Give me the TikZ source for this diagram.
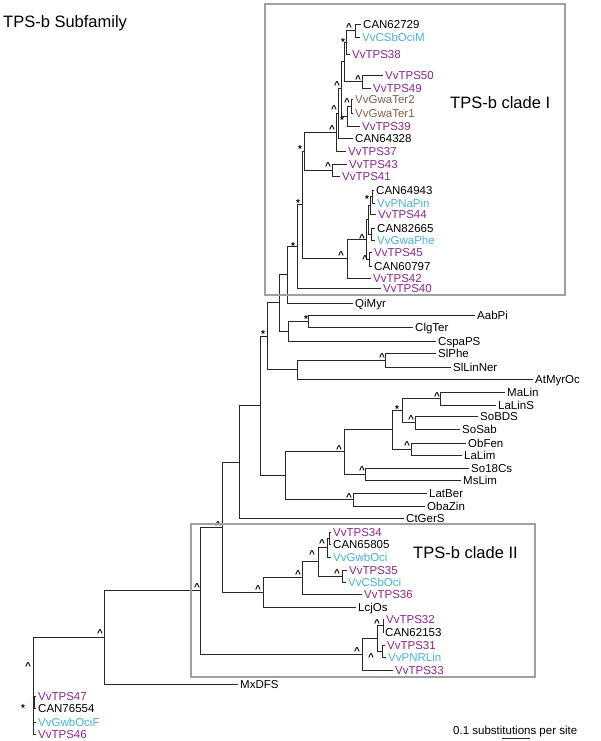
\documentclass[tikz,border=0pt]{standalone}
\usepackage{fontspec}
\setmainfont{Liberation Sans}
\usetikzlibrary{calc}
\definecolor{vpurple}{RGB}{142,38,142}
\definecolor{vcyan}{RGB}{72,178,214}
\definecolor{vbrown}{RGB}{128,98,78}
\definecolor{boxgray}{RGB}{160,160,160}
\definecolor{treeline}{RGB}{40,40,40}
\newcommand\tp[5]{\node[tiplab,text=#4] (#1) at (#2,#3) {#5}; \coordinate (#1e) at ([xshift=-2.5pt]#1.west);}
\newcommand\nd[4]{\path let \p1=(#3), \p2=(#4) in coordinate (#1) at (#2pt,{0.5*\y1+0.5*\y2}); \draw[br] (#1) |- (#3); \draw[br] (#1) |- (#4);}
\newcommand\hatm[3]{\node[hatmark] (#1) at (#2,#3) {\textasciicircum};}
\newcommand\starm[3]{\node[starmark] (#1) at (#2,#3) {*};}
\begin{document}
\begin{tikzpicture}[x=1pt,y=-1pt,
  br/.style={line width=0.9pt,draw=treeline},
  tiplab/.style={anchor=west,inner sep=0pt,font=\fontsize{11.5}{12}\selectfont,text height=8.3pt,text depth=0pt},
  biglab/.style={anchor=west,inner sep=0pt,font=\fontsize{16.5}{18}\selectfont,text height=11.8pt,text depth=0pt},
  hatmark/.style={inner sep=0pt,font=\fontsize{10}{10}\selectfont\bfseries,yshift=-1.6pt},
  starmark/.style={inner sep=0pt,font=\fontsize{10}{10}\selectfont\bfseries,yshift=-1.9pt},
  boxst/.style={draw=boxgray,line width=2.8pt},
  leader/.style={draw=gray!60,dotted,line width=0.6pt}]
\useasboundingbox (0,0) rectangle (600,741);
\fill[white] (0,0) rectangle (600,741);
% tips
\tp{t1}{363}{24}{black}{CAN62729}
\tp{t2}{362}{37}{vcyan}{VvCSbOciM}
\tp{t3}{352}{54}{vpurple}{VvTPS38}
\tp{t4}{385}{75}{vpurple}{VvTPS50}
\tp{t5}{373}{88}{vpurple}{VvTPS49}
\tp{t6}{355}{99}{vbrown}{VvGwaTer2}
\tp{t7}{355}{113}{vbrown}{VvGwaTer1}
\tp{t8}{362}{126}{vpurple}{VvTPS39}
\tp{t9}{355}{138}{black}{CAN64328}
\tp{t10}{348}{151}{vpurple}{VvTPS37}
\tp{t11}{349}{164}{vpurple}{VvTPS43}
\tp{t12}{342}{176}{vpurple}{VvTPS41}
\tp{t13}{376}{190}{black}{CAN64943}
\tp{t14}{377}{203}{vcyan}{VvPNaPin}
\tp{t15}{378}{214}{vpurple}{VvTPS44}
\tp{t16}{377}{228}{black}{CAN82665}
\tp{t17}{377}{240}{vcyan}{VvGwaPhe}
\tp{t18}{374}{252}{vpurple}{VvTPS45}
\tp{t19}{374}{266}{black}{CAN60797}
\tp{t20}{373}{278}{vpurple}{VvTPS42}
\tp{t21}{383}{288}{vpurple}{VvTPS40}
\tp{t22}{355}{303}{black}{QiMyr}
\tp{t23}{477}{315}{black}{AabPi}
\tp{t24}{415}{327}{black}{ClgTer}
\tp{t25}{438}{341}{black}{CspaPS}
\tp{t26}{438}{353}{black}{SlPhe}
\tp{t27}{453}{367}{black}{SlLinNer}
\tp{t28}{535}{379}{black}{AtMyrOc}
\tp{t29}{507}{392}{black}{MaLin}
\tp{t30}{498}{405}{black}{LaLinS}
\tp{t31}{480}{416}{black}{SoBDS}
\tp{t32}{462}{429}{black}{SoSab}
\tp{t33}{468}{443}{black}{ObFen}
\tp{t34}{464}{455}{black}{LaLim}
\tp{t35}{471}{468}{black}{So18Cs}
\tp{t36}{463}{480}{black}{MsLim}
\tp{t37}{429}{493}{black}{LatBer}
\tp{t38}{427}{506}{black}{ObaZin}
\tp{t39}{406}{518}{black}{CtGerS}
\tp{t40}{333}{532}{vpurple}{VvTPS34}
\tp{t41}{333}{544}{black}{CAN65805}
\tp{t42}{333}{557}{vcyan}{VvGwbOci}
\tp{t43}{349}{570}{vpurple}{VvTPS35}
\tp{t44}{348}{582}{vcyan}{VvCSbOci}
\tp{t45}{364}{594}{vpurple}{VvTPS36}
\tp{t46}{358}{607}{black}{LcjOs}
\tp{t47}{386}{619}{vpurple}{VvTPS32}
\tp{t48}{385}{632}{black}{CAN62153}
\tp{t49}{387}{645}{vpurple}{VvTPS31}
\tp{t50}{388}{657}{vcyan}{VvPNRLin}
\tp{t51}{395}{670}{vpurple}{VvTPS33}
\tp{t52}{240}{684}{black}{MxDFS}
\tp{t53}{38}{696}{vpurple}{VvTPS47}
\tp{t54}{38}{708}{black}{CAN76554}
\tp{t55}{38}{722}{vcyan}{VvGwbOciF}
\tp{t56}{38}{734}{vpurple}{VvTPS46}
% internal nodes: clade I
\nd{a1}{355}{t1e}{t2e}
\nd{a2}{346}{a1}{t3e}
\nd{a3}{362}{t4e}{t5e}
\nd{a4}{351}{t6e}{t7e}
\nd{a5}{347}{a4}{t8e}
\nd{a6}{344}{a2}{a3}
\nd{a7}{341}{a6}{a5}
\nd{a8}{338}{a7}{t9e}
\nd{a9}{336}{a8}{t10e}
\nd{a10}{332}{t11e}{t12e}
\nd{a11}{304}{a9}{a10}
\nd{b1}{372}{t13e}{t14e}
\nd{b2}{370}{b1}{t15e}
\nd{b3}{371}{t16e}{t17e}
\nd{b4}{368}{b2}{b3}
\nd{b5}{369}{t18e}{t19e}
\nd{b6}{366}{b4}{b5}
\nd{b7}{347}{b6}{t20e}
\nd{a12}{302}{a11}{b7}
\nd{a13}{297}{a12}{t21e}
% middle
\nd{n287}{287}{a13}{t22e}
\nd{n308}{308}{t23e}{t24e}
\nd{n288}{288}{n308}{t25e}
\nd{n279}{279}{n287}{n288}
\nd{n385}{385}{t26e}{t27e}
\nd{n297}{297}{n385}{t28e}
\nd{n267}{267}{n279}{n297}
\nd{n440}{440}{t29e}{t30e}
\nd{n415}{415}{t31e}{t32e}
\nd{n402}{402}{n440}{n415}
\nd{n411}{411}{t33e}{t34e}
\nd{n392}{392}{n402}{n411}
\nd{n365}{365}{t35e}{t36e}
\nd{n344}{344}{n392}{n365}
\nd{n353}{353}{t37e}{t38e}
\nd{n285}{285}{n344}{n353}
\nd{n260}{260}{n267}{n285}
\nd{n239}{239}{n260}{t39e}
% clade II
\nd{c0}{329}{t40e}{t41e}
\nd{c1}{327}{c0}{t42e}
\nd{c2}{342}{t43e}{t44e}
\nd{c3}{318}{c1}{c2}
\nd{c4}{302}{c3}{t45e}
\nd{c5}{263}{c4}{t46e}
\nd{n222}{222}{n239}{c5}
\nd{d1}{383}{t47e}{t48e}
\nd{d2}{382}{t49e}{t50e}
\nd{d3}{377}{d1}{d2}
\nd{d4}{362}{d3}{t51e}
\nd{n200}{200}{n222}{d4}
\nd{n104}{104}{n200}{t52e}
% root
\path let \p1=(n104) in coordinate (root) at (33pt,\y1);
\draw[br] (root) -- (n104);
\draw[br] (root) |- (t56e);
\draw[br] (root |- t53e) -- (t53e);
\draw[br] (root |- t54e) -- (t54e);
\draw[br] (root |- t55e) -- (t55e);
\draw[br,line width=2pt] ([xshift=0.5pt]root |- t53e) -- ([xshift=0.5pt]root |- t54e);
% support marks
\hatm{m1}{349}{25}
\starm{m2}{343}{40}
\hatm{m3}{358}{77}
\hatm{m4}{347}{100}
\starm{m5}{342}{118}
\hatm{m6}{337}{83}
\hatm{m7}{334}{107}
\hatm{m8}{332}{127}
\hatm{m9}{328}{164}
\starm{m10}{300}{147}
\starm{m11}{367}{197}
\hatm{m12}{362}{236}
\hatm{m13}{365}{257}
\hatm{m14}{341}{253}
\starm{m15}{298}{201}
\starm{m16}{293}{244}
\starm{m17}{306}{317}
\starm{m18}{263}{332}
\hatm{m19}{382}{355}
\hatm{m20}{437}{394}
\starm{m21}{397}{407}
\hatm{m22}{411}{417}
\hatm{m23}{407}{443}
\hatm{m24}{339}{447}
\hatm{m25}{362}{468}
\hatm{m26}{349}{495}
\hatm{m27}{218}{523}
\hatm{m28}{322}{541}
\hatm{m29}{312}{552}
\hatm{m30}{337}{571}
\hatm{m31}{298}{572}
\hatm{m32}{258}{587}
\hatm{m33}{377}{621}
\hatm{m34}{357}{649}
\hatm{m35}{371}{655}
\hatm{m36}{197}{585}
\hatm{m37}{100}{631}
\hatm{m38}{28}{664}
\starm{m39}{23}{706}
\coordinate (ldr) at (32,700);
\draw[leader] (m39.east) -- (ldr);
% boxes
\draw[boxst] (265,4) rectangle (565,295);
\draw[boxst] (191,524) rectangle (535,677);
% titles
\node[biglab] (ttl) at (3,22) {TPS-b Subfamily};
\node[biglab] (cl1) at (450,103) {TPS-b clade I};
\node[biglab] (cl2) at (413,553) {TPS-b clade II};
% scale
\node[tiplab] (sc) at (453,730) {0.1 substitutions per site};
\coordinate (sb1) at (502,738);
\coordinate (sb2) at (530,738);
\draw[br] (sb1) -- (sb2);
\end{tikzpicture}
\end{document}
